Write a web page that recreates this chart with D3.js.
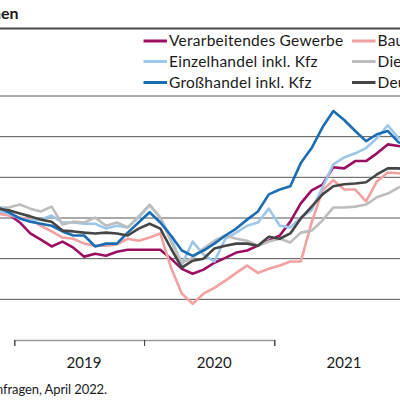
<!DOCTYPE html>
<html><head><meta charset="utf-8">
<script src="https://cdn.jsdelivr.net/npm/d3@7"></script>
<style>body{margin:0;background:#fff}svg{display:block}text{font-family:Lato,"Open Sans",sans-serif;fill:#1a1a1a}</style>
</head><body><svg id="c" width="400" height="400"></svg>
<script>
const months = ["2018-10","2018-11","2018-12",
 "2019-01","2019-02","2019-03","2019-04","2019-05","2019-06","2019-07","2019-08","2019-09","2019-10","2019-11","2019-12",
 "2020-01","2020-02","2020-03","2020-04","2020-05","2020-06","2020-07","2020-08","2020-09","2020-10","2020-11","2020-12",
 "2021-01","2021-02","2021-03","2021-04","2021-05","2021-06","2021-07","2021-08","2021-09","2021-10","2021-11","2021-12",
 "2022-01"];
const verarbeitendesGewerbe = [1.4,1.1,0.9,-1.1,-3.8,-5.3,-7.0,-5.8,-7.3,-9.5,-8.8,-9.3,-8.3,-7.8,-7.8,-7.8,-7.8,-10.0,-12.5,-13.7,-12.7,-11.0,-9.8,-8.5,-8.0,-6.8,-5.6,-4.3,-0.9,3.6,6.8,8.2,12.5,12.2,14.0,14.0,15.9,18.1,17.7,17.2];
const bauhauptgewerbe = [1.9,1.1,0.6,0.1,-0.4,-1.9,-3.3,-4.8,-5.1,-6.3,-6.8,-6.8,-6.5,-5.1,-5.6,-4.8,-3.8,-12.2,-18.6,-21.1,-18.6,-17.2,-15.4,-13.5,-11.7,-13.5,-12.5,-11.7,-10.7,-10.7,-1.1,6.8,9.3,7.0,7.0,4.1,9.0,11.2,11.0,10.5];
const einzelhandel = [2.3,1.9,1.1,-0.1,-0.6,-0.4,0.6,-1.1,-1.1,-1.4,-1.4,-2.6,-1.9,-2.3,0.1,3.1,0.1,-4.8,-11.5,-5.8,-9.0,-10.7,-5.1,-3.6,-1.9,-1.1,2.3,-1.9,-2.3,0.1,1.9,7.5,13.2,14.9,15.9,17.2,19.6,22.8,19.6,19.1];
const dienstleister = [2.3,2.6,2.6,3.3,2.3,1.6,2.8,-1.6,-0.9,-1.1,0.1,-1.9,-1.1,-2.3,0.4,3.3,0.1,-5.8,-11.0,-9.8,-7.5,-5.6,-4.3,-5.1,-5.6,-6.8,-5.8,-5.1,-6.0,-3.6,-3.1,-0.6,2.6,2.6,2.8,3.3,5.1,6.0,7.5,8.0];
const grosshandel = [3.1,2.6,1.4,-0.1,-0.9,-1.4,-1.9,-3.3,-4.3,-4.3,-7.0,-6.3,-6.3,-3.6,-1.1,1.4,-1.1,-4.3,-8.0,-9.3,-8.0,-6.3,-4.3,-2.6,-0.4,1.6,5.8,7.0,7.8,13.5,17.2,22.3,26.3,24.1,21.4,18.9,20.6,21.4,18.6,17.9];
const deutschland = [2.6,2.3,1.9,1.1,0.4,-0.4,-0.9,-3.1,-3.3,-3.6,-3.8,-3.6,-3.8,-4.3,-2.6,-1.4,-2.6,-7.5,-12.2,-10.5,-10.0,-7.5,-6.8,-6.3,-6.3,-6.8,-4.6,-5.1,-3.8,-0.1,2.8,5.8,7.8,8.3,8.5,8.8,10.7,12.2,12.2,11.7];
const yTicks = [-30,-20,-10,0,10,20,30];
const yearTicks = ["2019","2020","2021","2022"];
const yearLabels = ["2019","2020","2021"];
const titleText = "ifo Geschäftsklima nach Wirtschaftsbereichen";
const sourceText = "Quelle: ifo Konjunkturumfragen, April 2022.";

const seriesDefs = [
  {name:"Verarbeitendes Gewerbe", values:verarbeitendesGewerbe, color:"#9b0f63"},
  {name:"Bauhauptgewerbe", values:bauhauptgewerbe, color:"#f2a0a0"},
  {name:"Einzelhandel inkl. Kfz", values:einzelhandel, color:"#9cc7ea"},
  {name:"Dienstleister", values:dienstleister, color:"#bdbdbd"},
  {name:"Großhandel inkl. Kfz", values:grosshandel, color:"#1b6db3"},
  {name:"Deutschland", values:deutschland, color:"#454545"}
];

const svg = d3.select("#c");
const parseM = d3.timeParse("%Y-%m");
const mid = s => { const d = parseM(s); return new Date((+d + +d3.timeMonth.offset(d,1))/2); };
const x = d3.scaleTime().domain([new Date(2019,0,1), new Date(2021,0,1)]).range([14.3, 274.3]);
const y = d3.scaleLinear().domain([-30,30]).range([340,96]);

// title (cropped at the left edge, as in the reference)
svg.append("text").attr("x",18.5).attr("y",18.5).attr("text-anchor","end")
  .style("font-weight","bold").style("font-size","16px").text(titleText);
svg.append("line").attr("x1",0).attr("x2",400).attr("y1",28.5).attr("y2",28.5)
  .attr("stroke","#4a4a4a").attr("stroke-width",2);

// gridlines
svg.append("g").selectAll("line").data(yTicks.filter(v=>v>-30)).join("line")
  .attr("x1",0).attr("x2",400).attr("y1",d=>y(d)).attr("y2",d=>y(d))
  .attr("stroke","#555").attr("stroke-width",1);

// x axis
const xa = svg.append("g").attr("transform",`translate(0,${y(-30)})`)
  .call(d3.axisBottom(x).tickValues(yearTicks.map(t=>new Date(+t,0,1))).tickSize(6).tickFormat(""));
xa.select(".domain").attr("stroke","#9a9a9a").attr("stroke-width",1.5);
xa.selectAll(".tick line").attr("stroke","#333");
svg.append("g").selectAll("text").data(yearLabels).join("text")
  .attr("x",d=>x(new Date(+d,6,16))).attr("y",368).attr("text-anchor","middle")
  .style("font-size","15px").text(d=>d);

// lines
const line = d3.line().x((d,i)=>x(mid(months[i]))).y(d=>y(d));
svg.append("g").selectAll("path").data(seriesDefs).join("path")
  .attr("d",d=>line(d.values)).attr("fill","none").attr("stroke",d=>d.color)
  .attr("stroke-width",2.6).attr("stroke-linejoin","round");

// legend
const legCols = [143.5, 352];
const legRows = [41, 61.5, 82.5];
const lg = svg.append("g").selectAll("g").data(seriesDefs).join("g")
  .attr("transform",(d,i)=>`translate(${legCols[i%2]},${legRows[Math.floor(i/2)]})`);
lg.append("line").attr("x1",0).attr("x2",23.5).attr("stroke",d=>d.color).attr("stroke-width",3);
lg.append("text").attr("x",25.5).attr("y",5.2).style("font-size","15.5px")
  .style("letter-spacing","0.25px").text(d=>d.name);

// source (cropped at the left edge, as in the reference)
svg.append("text").attr("x",107).attr("y",394).attr("text-anchor","end")
  .style("font-size","13px").style("letter-spacing","-0.1px").text(sourceText);
</script></body></html>
